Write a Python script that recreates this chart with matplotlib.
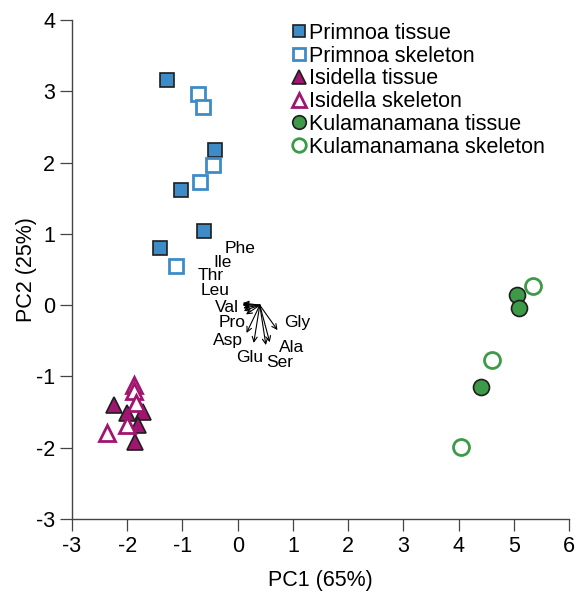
import matplotlib
matplotlib.use("Agg")
import matplotlib.pyplot as plt

plt.rcParams['font.family'] = ['Liberation Sans', 'DejaVu Sans']
plt.rcParams['axes.unicode_minus'] = False

# sample scores (PC1, PC2)
primnoa_tissue_x = [-1.28, -0.41, -1.03, -0.61, -1.41]
primnoa_tissue_y = [3.16, 2.18, 1.62, 1.04, 0.80]
primnoa_skel_x = [-0.72, -0.63, -0.45, -0.69, -1.12]
primnoa_skel_y = [2.96, 2.78, 1.97, 1.73, 0.55]
isidella_tissue_x = [-2.24, -2.00, -1.72, -1.81, -1.86]
isidella_tissue_y = [-1.40, -1.51, -1.50, -1.68, -1.92]
isidella_skel_x = [-1.88, -1.88, -1.84, -2.00, -2.37]
isidella_skel_y = [-1.12, -1.20, -1.37, -1.68, -1.79]
kula_tissue_x = [5.05, 5.10, 4.41]
kula_tissue_y = [0.14, -0.04, -1.15]
kula_skel_x = [5.34, 4.61, 4.05]
kula_skel_y = [0.27, -0.77, -1.99]

# loading vectors (origin and tips) and their labels
arrow_origin = (0.40, 0.0)
aa_names = ['Phe', 'Ile', 'Thr', 'Leu', 'Val', 'Pro', 'Asp', 'Glu', 'Ser', 'Ala', 'Gly']
aa_tip_x = [0.09, 0.09, 0.10, 0.11, 0.09, 0.15, 0.16, 0.29, 0.51, 0.58, 0.72]
aa_tip_y = [0.03, 0.00, -0.04, -0.08, 0.01, -0.13, -0.39, -0.53, -0.56, -0.52, -0.35]
aa_label_x = [0.04, -0.27, -0.49, -0.40, -0.20, -0.11, -0.18, 0.22, 0.76, 0.98, 1.07]
aa_label_y = [0.80, 0.60, 0.42, 0.20, -0.03, -0.24, -0.49, -0.73, -0.80, -0.59, -0.25]

blue = '#3d8bc7'
purple = '#a0156f'
green = '#3d9a48'

fig = plt.figure(figsize=(5.77, 5.92), dpi=100)
ax = fig.add_axes([0.1248, 0.1233, 0.8615, 0.8429])

ms = 10.5
ax.plot(primnoa_tissue_x, primnoa_tissue_y, 's', ms=ms, mfc=blue, mec='#1e1e1e', mew=1.2,
        ls='none', label='Primnoa tissue')
ax.plot(primnoa_skel_x, primnoa_skel_y, 's', ms=ms, mfc='white', mec=blue, mew=2,
        ls='none', label='Primnoa skeleton')
ax.plot(isidella_tissue_x, isidella_tissue_y, '^', ms=ms + 1, mfc=purple, mec='#1e1e1e', mew=1.2,
        ls='none', label='Isidella tissue')
ax.plot(isidella_skel_x, isidella_skel_y, '^', ms=ms + 1, mfc='white', mec=purple, mew=2,
        ls='none', label='Isidella skeleton')
ax.plot(kula_tissue_x, kula_tissue_y, 'o', ms=ms + 1, mfc=green, mec='#1e1e1e', mew=1.2,
        ls='none', label='Kulamanamana tissue')
ax.plot(kula_skel_x, kula_skel_y, 'o', ms=ms + 1, mfc='white', mec=green, mew=2,
        ls='none', label='Kulamanamana skeleton')

for name, tx, ty, lx, ly in zip(aa_names, aa_tip_x, aa_tip_y, aa_label_x, aa_label_y):
    ax.annotate('', xy=(tx, ty), xytext=arrow_origin,
                arrowprops=dict(arrowstyle='->', color='black', lw=0.8,
                                shrinkA=0, shrinkB=0, mutation_scale=9))
    ax.text(lx, ly, name, fontsize=12.5, ha='center', va='center')

ax.set_xlim(-3, 6)
ax.set_ylim(-3, 4)
ax.set_xticks(range(-3, 7))
ax.set_yticks(range(-3, 5))
for s in ['top', 'right']:
    ax.spines[s].set_visible(False)
for s in ['left', 'bottom']:
    ax.spines[s].set_color('#444444')
    ax.spines[s].set_linewidth(1.0)
ax.tick_params(direction='out', length=8.6, width=0.9, color='#444444',
               labelsize=15.5, pad=3.5)
ax.set_xlabel('PC1 (65%)', fontsize=15.5)
ax.set_ylabel('PC2 (25%)', fontsize=15.5)
ax.xaxis.set_label_coords(0.5, -0.102)
ax.yaxis.set_label_coords(-0.071, 0.5)

ax.legend(loc='upper left', bbox_to_anchor=(293 / 577, 1 - 23 / 592),
          bbox_transform=fig.transFigure, frameon=False, fontsize=15.5,
          handlelength=0.55, handletextpad=0.2, labelspacing=0.08,
          borderpad=0, borderaxespad=0, markerscale=0.85)

fig.savefig('out.png', dpi=100)
